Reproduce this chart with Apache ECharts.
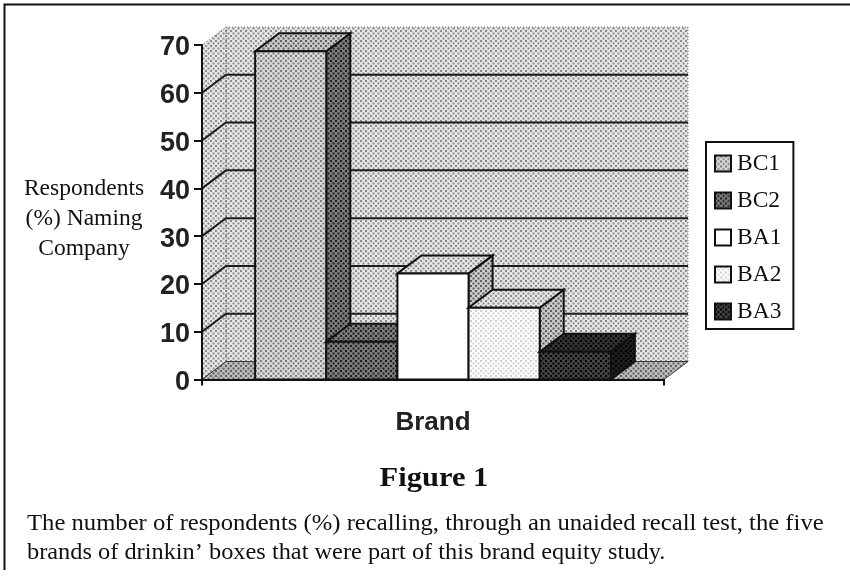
<!DOCTYPE html>
<html>
<head>
<meta charset="utf-8">
<style>
    html, body { margin: 0; padding: 0; background: #fff; }
    #chart { width: 850px; height: 579px; }
</style>
<script src="https://cdn.jsdelivr.net/npm/echarts@6/dist/echarts.min.js"></script>
</head>
<body>
<div id="chart"></div>
<script>
    var brands = ['BC1', 'BC2', 'BA1', 'BA2', 'BA3'];
    var values = [68.7, 7.9, 22.2, 15, 5.8];
    var ticks = [0, 10, 20, 30, 40, 50, 60, 70];
    var category = ['Brand'];
    var yLabelLines = ['Respondents', '(%) Naming', 'Company'];
    var figureTitle = 'Figure 1';
    var captionLines = [
        'The number of respondents (%) recalling, through an unaided recall test, the five',
        'brands of drinkin\u2019 boxes that were part of this brand equity study.'
    ];

    // depth of the fake 3d box, in pixels
    var DX = 24;
    var DY = 18;
    var BAR_SHARE = 0.154;
    var SERIF = '"Liberation Serif", serif';
    var SANS = '"Liberation Sans", sans-serif';

    // dither pattern: base colour with two soft dots per tile
    function dither(base, dot, size) {
        var c = document.createElement('canvas');
        c.width = c.height = size;
        var ctx = c.getContext('2d');
        ctx.fillStyle = base;
        ctx.fillRect(0, 0, size, size);
        ctx.fillStyle = dot;
        ctx.fillRect(0, 0, 2, 2);
        ctx.fillRect(size / 2, size / 2, 2, 2);
        return {image: c, repeat: 'repeat'};
    }

    var wallFill = dither('#e6e6e6', '#8c8c8c', 5);
    var floorFill = dither('#bcbcbc', '#606060', 5);
    var midFill = dither('#cacaca', '#5c5c5c', 5);
    var darkFill = dither('#7c7c7c', '#1e1e1e', 5);
    var faces = [
        {front: dither('#d8d8d8', '#7c7c7c', 5), top: midFill, side: darkFill},
        {front: darkFill, top: darkFill, side: darkFill},
        {front: '#ffffff', top: wallFill, side: midFill},
        {front: dither('#ffffff', '#d0d0d0', 5), top: wallFill, side: midFill},
        {front: dither('#444444', '#000000', 5), top: dither('#363636', '#000000', 5), side: dither('#202020', '#000000', 5)}
    ];

    function renderFrame(params, api) {
        var t = api.value(1);
        var p = api.coord([0, t]);
        var left = params.coordSys.x;
        var right = left + params.coordSys.width;
        var children = [];
        if (t === 0) {
            var top = params.coordSys.y;
            children.push({
                type: 'polygon',
                shape: {points: [[left + DX, top - DY], [right + DX, top - DY], [right + DX, p[1] - DY], [left + DX, p[1] - DY]]},
                style: {fill: wallFill, stroke: '#666', lineWidth: 1, lineDash: [1, 2]}
            });
            children.push({
                type: 'polygon',
                shape: {points: [[left, top], [left + DX, top - DY], [left + DX, p[1] - DY], [left, p[1]]]},
                style: {fill: wallFill, stroke: '#666', lineWidth: 1, lineDash: [1, 2]}
            });
            children.push({
                type: 'polygon',
                shape: {points: [[left, p[1]], [left + DX, p[1] - DY], [right + DX, p[1] - DY], [right, p[1]]]},
                style: {fill: floorFill, stroke: '#333', lineWidth: 1}
            });
        }
        else if (t < 70) {
            children.push({
                type: 'polyline',
                shape: {points: [[left, p[1]], [left + DX, p[1] - DY], [right + DX, p[1] - DY]]},
                style: {fill: null, stroke: '#1c1c1c', lineWidth: 2}
            });
        }
        return {type: 'group', children: children};
    }

    function renderBar(idx) {
        return function (params, api) {
            var top = api.coord([0, api.value(1)]);
            var base = api.coord([0, 0]);
            var w = api.size([1, 0])[0] * BAR_SHARE;
            var x0 = top[0] - 2.5 * w + idx * w;
            var x1 = x0 + w;
            var f = faces[idx];
            var line = {stroke: '#111', lineWidth: 2, lineJoin: 'miter'};
            return {
                type: 'group',
                children: [
                    {
                        type: 'polygon',
                        shape: {points: [[x1, top[1]], [x1 + DX, top[1] - DY], [x1 + DX, base[1] - DY], [x1, base[1]]]},
                        style: Object.assign({fill: f.side}, line)
                    },
                    {
                        type: 'polygon',
                        shape: {points: [[x0, top[1]], [x0 + DX, top[1] - DY], [x1 + DX, top[1] - DY], [x1, top[1]]]},
                        style: Object.assign({fill: f.top}, line)
                    },
                    {
                        type: 'rect',
                        shape: {x: x0, y: top[1], width: w, height: base[1] - top[1]},
                        style: Object.assign({fill: f.front}, line)
                    }
                ]
            };
        };
    }

    var series = [{
        name: 'frame',
        type: 'custom',
        silent: true,
        renderItem: renderFrame,
        encode: {x: 0, y: 1},
        data: ticks.map(function (t) {
            return [0, t];
        })
    }];
    brands.forEach(function (name, i) {
        series.push({
            name: name,
            type: 'custom',
            silent: true,
            renderItem: renderBar(i),
            encode: {x: 0, y: 1},
            itemStyle: {color: faces[i].front, borderColor: '#111', borderWidth: 2},
            data: [[0, values[i]]]
        });
    });

    function serifText(text, x, y, size, align, extra) {
        return {
            type: 'text',
            x: x,
            y: y,
            scaleX: extra && extra.scaleX || 1,
            style: {
                text: text,
                fill: '#111',
                align: align,
                verticalAlign: 'middle',
                font: (extra && extra.bold ? 'bold ' : '') + size + 'px ' + SERIF
            }
        };
    }

    var graphics = [{
        type: 'polyline',
        shape: {points: [[4.5, 570], [4.5, 4.5], [850, 4.5]]},
        style: {fill: null, stroke: '#111', lineWidth: 2}
    }];
    var yLabelY = [189, 219, 249];
    yLabelLines.forEach(function (line, i) {
        graphics.push(serifText(line, 84, yLabelY[i], 23.5, 'center'));
    });
    graphics.push(serifText(figureTitle, 434, 479, 27, 'center', {bold: true, scaleX: 1.13}));
    graphics.push(serifText(captionLines[0], 27, 524, 24, 'left', {scaleX: 1.027}));
    graphics.push(serifText(captionLines[1], 27, 553, 24, 'left', {scaleX: 1.015}));

    var chart = echarts.init(document.getElementById('chart'));
    chart.setOption({
        animation: false,
        backgroundColor: '#fff',
        grid: {left: 202, right: 186, top: 45, bottom: 199.5},
        xAxis: {
            type: 'category',
            data: category,
            z: 10,
            axisLine: {lineStyle: {color: '#111', width: 2}},
            axisTick: {show: true, length: 6, lineStyle: {color: '#111', width: 2}},
            axisLabel: {margin: 30, color: '#222', fontFamily: SANS, fontWeight: 'bold', fontSize: 26}
        },
        yAxis: {
            type: 'value',
            min: 0,
            max: 70,
            interval: 10,
            z: 10,
            axisLine: {show: true, lineStyle: {color: '#111', width: 2}},
            axisTick: {show: true, length: 8, lineStyle: {color: '#111', width: 2}},
            axisLabel: {margin: 12, color: '#222', fontFamily: SANS, fontWeight: 'bold', fontSize: 27, verticalAlign: 'top', lineHeight: 6},
            splitLine: {show: false}
        },
        legend: {
            data: brands,
            orient: 'vertical',
            icon: 'rect',
            left: 706,
            top: 142,
            padding: [8, 12, 4, 8],
            itemWidth: 16,
            itemHeight: 16,
            itemGap: 10,
            borderColor: '#111',
            borderWidth: 2,
            selectedMode: false,
            textStyle: {color: '#111', fontFamily: SERIF, fontSize: 23.5, lineHeight: 27, padding: [0, 0, 0, 1]}
        },
        graphic: graphics,
        series: series
    });
</script>
</body>
</html>
